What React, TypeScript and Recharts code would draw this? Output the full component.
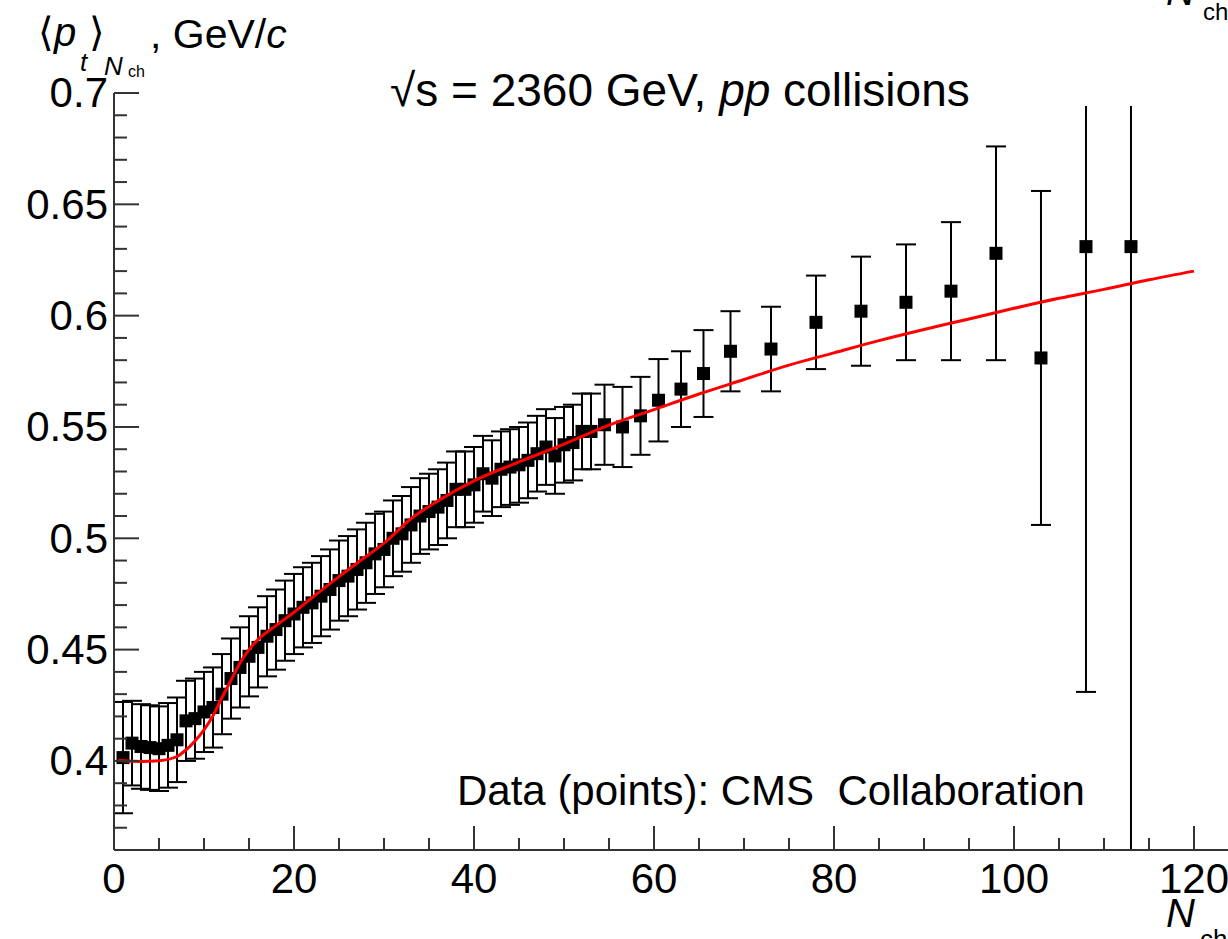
import React from 'react';
import { ComposedChart, Scatter, XAxis, YAxis, ErrorBar } from 'recharts';

// Data points (CMS, pp at 2360 GeV)
const nch = [1, 2, 3, 4, 5, 6, 7, 8, 9, 10, 11, 12, 13, 14, 15, 16, 17, 18, 19, 20, 21, 22, 23, 24, 25, 26, 27, 28, 29, 30, 31, 32, 33, 34, 35, 36, 37, 38, 39, 40, 41, 42, 43, 44, 45, 46, 47, 48, 49, 50, 51, 52, 53, 54.5, 56.5, 58.5, 60.5, 63, 65.5, 68.5, 73, 78, 83, 88, 93, 98, 103, 108, 113];
const meanPt = [0.4015, 0.408, 0.4065, 0.406, 0.4055, 0.407, 0.4095, 0.418, 0.419, 0.422, 0.424, 0.43, 0.437, 0.442, 0.447, 0.451, 0.456, 0.459, 0.463, 0.466, 0.469, 0.471, 0.474, 0.477, 0.481, 0.483, 0.486, 0.489, 0.493, 0.495, 0.5, 0.502, 0.506, 0.51, 0.512, 0.514, 0.517, 0.522, 0.522, 0.524, 0.529, 0.527, 0.531, 0.532, 0.533, 0.535, 0.538, 0.541, 0.537, 0.542, 0.543, 0.548, 0.548, 0.551, 0.55, 0.555, 0.562, 0.567, 0.574, 0.584, 0.585, 0.597, 0.602, 0.606, 0.611, 0.628, 0.581, 0.631, 0.631];
const ptErr = [0.025, 0.019, 0.019, 0.019, 0.019, 0.019, 0.019, 0.018, 0.018, 0.018, 0.018, 0.018, 0.018, 0.018, 0.018, 0.018, 0.018, 0.018, 0.018, 0.018, 0.018, 0.018, 0.018, 0.018, 0.018, 0.018, 0.018, 0.018, 0.018, 0.017, 0.017, 0.017, 0.017, 0.017, 0.017, 0.017, 0.017, 0.017, 0.017, 0.017, 0.017, 0.017, 0.017, 0.017, 0.017, 0.017, 0.017, 0.017, 0.017, 0.017, 0.017, 0.017, 0.017, 0.018, 0.018, 0.0175, 0.0185, 0.017, 0.0195, 0.018, 0.019, 0.021, 0.0245, 0.026, 0.031, 0.048, 0.075, 0.2, 0.35];

// Model curve (red)
const fitN = [0.5, 1, 3, 5, 7, 8, 9, 10, 11, 12, 13, 14, 15, 16, 18, 20, 22, 25, 28, 30, 33, 36, 40, 45, 50, 55, 60, 65, 70, 75, 80, 85, 90, 95, 100, 105, 110, 115, 120];
const fitPt = [0.4003, 0.4001, 0.3998, 0.4001, 0.402, 0.405, 0.409, 0.414, 0.4203, 0.4285, 0.4363, 0.444, 0.45, 0.4545, 0.4608, 0.4668, 0.4733, 0.4828, 0.4918, 0.4978, 0.5088, 0.5168, 0.5258, 0.5343, 0.5423, 0.5508, 0.5578, 0.5648, 0.5713, 0.5778, 0.5833, 0.5888, 0.5938, 0.5985, 0.6033, 0.6078, 0.6118, 0.6161, 0.62];

// Axis ticks
const xTicks = [0, 5, 10, 15, 20, 25, 30, 35, 40, 45, 50, 55, 60, 65, 70, 75, 80, 85, 90, 95, 100, 105, 110, 115, 120];
const xMajor = [0, 20, 40, 60, 80, 100, 120];
const yTicks = [0.36, 0.37, 0.38, 0.39, 0.4, 0.41, 0.42, 0.43, 0.44, 0.45, 0.46, 0.47, 0.48, 0.49, 0.5, 0.51, 0.52, 0.53, 0.54, 0.55, 0.56, 0.57, 0.58, 0.59, 0.6, 0.61, 0.62, 0.63, 0.64, 0.65, 0.66, 0.67, 0.68, 0.69, 0.7];
const yMajor = [0.4, 0.45, 0.5, 0.55, 0.6, 0.65, 0.7];

const points = nch.map((n, i) => ({ x: n, y: meanPt[i], err: ptErr[i] }));
const curve = fitN.map((n, i) => ({ x: n, y: fitPt[i] }));

const FONT = '"Liberation Sans", Arial, Helvetica, "DejaVu Sans", sans-serif';
const AXIS = '#333';

const XTick = (props: any) => {
  const { x, y, payload } = props;
  const major = xMajor.includes(payload.value);
  return (
    <g>
      <line x1={x} y1={y} x2={x} y2={y - (major ? 24 : 12)} stroke={AXIS} strokeWidth={2} />
      {major && (
        <text x={x} y={y + 43} textAnchor="middle" fontSize={42} fontFamily={FONT} fill="#000">
          {payload.value}
        </text>
      )}
    </g>
  );
};

const YTick = (props: any) => {
  const { x, y, payload } = props;
  const major = yMajor.some((m) => Math.abs(m - payload.value) < 1e-6);
  return (
    <g>
      <line x1={x} y1={y} x2={x + (major ? 25 : 13)} y2={y} stroke={AXIS} strokeWidth={2} />
      {major && (
        <text x={x - 6} y={y} dy="0.34em" textAnchor="end" fontSize={42} fontFamily={FONT} fill="#000">
          {String(payload.value)}
        </text>
      )}
    </g>
  );
};

const Square = (props: any) => {
  const { cx, cy } = props;
  if (cx == null || cy == null) return <g />;
  return <rect x={cx - 6.5} y={cy - 6.5} width={13} height={13} fill="#000" />;
};

const NoShape = () => <g />;

export default function App() {
  return (
    <div style={{ position: 'absolute', left: 0, top: 0, width: 1228, height: 939, background: '#fff', overflow: 'hidden' }}>
      <style>{`.recharts-errorBars { clip-path: url(#plotClip); }`}</style>
      <ComposedChart width={1228} height={939} margin={{ top: 93, right: 0, bottom: 0, left: 0 }}>
        <XAxis
          type="number"
          dataKey="x"
          domain={[0, 123.78]}
          ticks={xTicks}
          tick={<XTick />}
          tickLine={false}
          tickSize={0}
          tickMargin={0}
          height={89}
          axisLine={{ stroke: AXIS, strokeWidth: 2 }}
          allowDataOverflow
          interval={0}
        />
        <YAxis
          type="number"
          dataKey="y"
          domain={[0.36, 0.7]}
          ticks={yTicks}
          tick={<YTick />}
          tickLine={false}
          tickSize={0}
          tickMargin={0}
          width={114}
          axisLine={{ stroke: AXIS, strokeWidth: 2 }}
          allowDataOverflow
          interval={0}
        />
        <Scatter data={points} shape={<Square />} isAnimationActive={false}>
          <ErrorBar dataKey="err" direction="y" width={10} stroke="#000" strokeWidth={2} isAnimationActive={false} />
        </Scatter>
        <Scatter
          data={curve}
          shape={<NoShape />}
          line={{ stroke: '#ff0000', strokeWidth: 3 }}
          lineJointType="monotoneX"
          isAnimationActive={false}
        />
      </ComposedChart>
      <svg width={1228} height={939} style={{ position: 'absolute', left: 0, top: 0, pointerEvents: 'none' }}>
        <defs>
          <clipPath id="plotClip" clipPathUnits="userSpaceOnUse">
            <rect x={114} y={106} width={1114} height={744} />
          </clipPath>
        </defs>
        <g fontFamily={FONT} fill="#000">
          {/* y-axis title */}
          <text x={38} y={46} fontSize={40}>⟨</text>
          <text x={54} y={46} fontSize={40} fontStyle="italic">p</text>
          <text x={80} y={71} fontSize={26} fontStyle="italic">t</text>
          <text x={89} y={46} fontSize={40}>⟩</text>
          <text x={104} y={75} fontSize={26} fontStyle="italic">N</text>
          <text x={128} y={77} fontSize={16}>ch</text>
          <text x={150} y={48} fontSize={41}>
            , GeV/<tspan fontStyle="italic">c</tspan>
          </text>
          {/* title */}
          <text x={390} y={106} fontSize={46}>
            √s = 2360 GeV, <tspan fontStyle="italic">pp</tspan> collisions
          </text>
          {/* data credit */}
          <text x={457} y={805} fontSize={42} style={{ whiteSpace: 'pre' }}>Data (points): CMS  Collaboration</text>
          {/* x-axis title (bottom right) */}
          <text x={1166} y={927} fontSize={40} fontStyle="italic">N</text>
          <text x={1200} y={948} fontSize={26}>ch</text>
          {/* x-axis title fragment at top right */}
          <text x={1166} y={5} fontSize={40} fontStyle="italic">N</text>
          <text x={1203} y={20} fontSize={24}>ch</text>
        </g>
      </svg>
    </div>
  );
}
